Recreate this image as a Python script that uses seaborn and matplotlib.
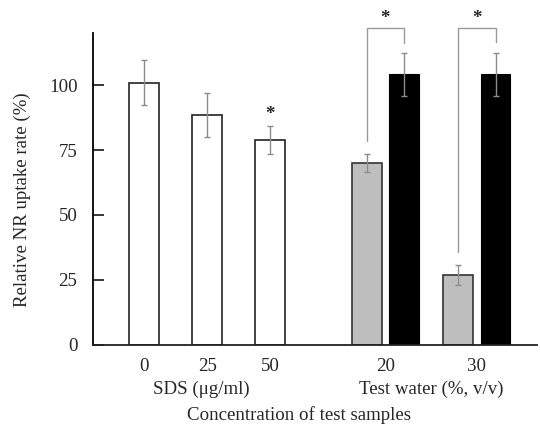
import numpy as np
import pandas as pd
import matplotlib
matplotlib.use("Agg")
import matplotlib.pyplot as plt
import seaborn as sns

# ---- data ----
sds_labels = ["0", "25", "50"]
sds_mean = [101.0, 88.5, 79.0]
sds_sd = [8.7, 8.4, 5.4]

tw_labels = ["20", "30"]
tw_mean = [70.0, 27.0]        # test water (gray)
tw_sd = [3.4, 3.9]
ctrl_mean = [104.2, 104.2]    # control (black)
ctrl_sd = [8.2, 8.3]

group_labels = ["SDS (\u03bcg/ml)", "Test water (%, v/v)"]
xlabel = "Concentration of test samples"
ylabel = "Relative NR uptake rate (%)"
yticks = [0, 25, 50, 75, 100]

# ---- style ----
sns.set_style("white")
plt.rcParams["font.family"] = ["Liberation Serif", "DejaVu Serif"]
FS = 13.6

fig = plt.figure(figsize=(5.4, 4.25), dpi=100)
ax = fig.add_axes([0.1717, 0.189, 0.823, 0.7326])

# layout positions (computed, not data)
sds_pos = np.arange(len(sds_mean), dtype=float)
tw_pos = 3.53 + np.arange(len(tw_mean)) * 1.45
ctrl_pos = tw_pos + 0.59
BAR_W = 0.475

def bars(pos, vals, face, edge, lw):
    df = pd.DataFrame({"pos": pos, "val": vals})
    mind = np.min(np.diff(pos)) if len(pos) > 1 else 1.0
    sns.barplot(data=df, x="pos", y="val", native_scale=True, orient="x",
                width=BAR_W / mind, color=face, edgecolor=edge,
                linewidth=lw, saturation=1, errorbar=None, ax=ax, zorder=2)

bars(sds_pos, sds_mean, "white", "#222222", 1.2)
bars(tw_pos, tw_mean, "#bebebe", "#333333", 1.2)
bars(ctrl_pos, ctrl_mean, "black", "black", 0.8)

ecol = "#8c8c8c"
for p, m, s in ((sds_pos, sds_mean, sds_sd), (tw_pos, tw_mean, tw_sd),
                (ctrl_pos, ctrl_mean, ctrl_sd)):
    ax.errorbar(p, m, yerr=s, fmt="none", ecolor=ecol, elinewidth=1.0,
                capsize=2, capthick=1.0, zorder=4)

# significance
ax.text(sds_pos[2], sds_mean[2] + sds_sd[2] + 4.5, "*", ha="center", va="center",
        fontsize=FS, fontweight="bold")
top = 122.2
for i in range(len(tw_mean)):
    xl, xr = tw_pos[i], ctrl_pos[i]
    yl = tw_mean[i] + tw_sd[i] + 5
    yr = ctrl_mean[i] + ctrl_sd[i] + 4
    ax.plot([xl, xl, xr, xr], [yl, top, top, yr], color="#9a9a9a", lw=1.0,
            clip_on=False, zorder=3)
    ax.text((xl + xr) / 2, top + 3.6, "*", ha="center", va="center",
            fontsize=FS, fontweight="bold", clip_on=False)

# axes
ax.set_ylim(0, 120)
ax.set_xlim(-0.816, 6.23)
ax.set_yticks(yticks)
ax.set_yticklabels([str(t) for t in yticks], fontsize=FS)
ax.tick_params(axis="y", direction="in", length=8, width=1.3, pad=11, left=True)
xt = list(sds_pos) + list((tw_pos + ctrl_pos) / 2)
ax.set_xticks(xt)
ax.set_xticklabels(sds_labels + tw_labels, fontsize=FS)
ax.tick_params(axis="x", length=0, pad=9.5)
ax.set_xlabel("")
ax.set_ylabel(ylabel, fontsize=FS)
ax.yaxis.set_label_coords(-0.138, 0.466)

for sp in ("top", "right"):
    ax.spines[sp].set_visible(False)
ax.spines["left"].set_color("black")
ax.spines["left"].set_linewidth(1.3)
ax.spines["bottom"].set_color("#222222")
ax.spines["bottom"].set_linewidth(1.3)

# group labels
ax.text(sds_pos[1] - 0.1, -0.145, group_labels[0], transform=ax.get_xaxis_transform(),
        ha="center", va="center", fontsize=FS)
ax.text((tw_pos.mean() + ctrl_pos.mean()) / 2, -0.145, group_labels[1],
        transform=ax.get_xaxis_transform(), ha="center", va="center", fontsize=FS)
ax.text(0.465, -0.227, xlabel, transform=ax.transAxes, ha="center", va="center",
        fontsize=FS)

fig.savefig("out.png", dpi=100)
